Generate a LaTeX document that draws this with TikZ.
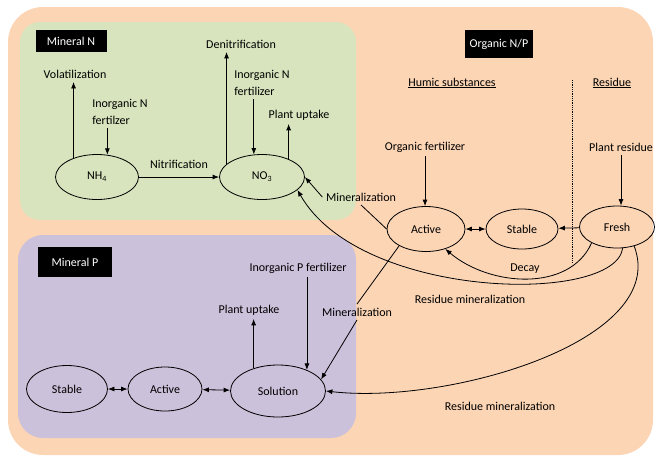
\documentclass[tikz,border=0pt]{standalone}
\usepackage{fontspec}
\setmainfont{Carlito}
\usepackage{tikz}
\usetikzlibrary{positioning,shapes.geometric,arrows.meta}
\definecolor{bgorg}{HTML}{FCD5B5}
\definecolor{bgminn}{HTML}{D7E4BD}
\definecolor{bgminp}{HTML}{CCC1DA}

\begin{document}
\begin{tikzpicture}[x=1pt,y=-1pt,font=\fontsize{12}{17}\selectfont,line width=0.8pt,
    >={Latex[length=6.5pt,width=5pt]},
    pool/.style={draw,ellipse,inner sep=0pt},
    tag/.style={fill=black,text=white,inner sep=0pt}]
    \useasboundingbox (0,0) rectangle (656,459);
    % backgrounds
    \fill[bgorg,rounded corners=35pt] (8,7) rectangle (653,455);
    \fill[bgminn,rounded corners=20pt] (20,22) rectangle (356,220);
    \fill[bgminp,rounded corners=25pt] (18,235) rectangle (356,438);
    \draw[densely dotted] (572,80) -- (572,262);

    \node[tag,minimum width=71pt,minimum height=22pt] (tagn) at (71,41) {Mineral N};
    \node[tag,minimum width=68pt,minimum height=28pt] (tago) at (499,44) {Organic N/P};
    \node[tag,minimum width=74pt,minimum height=30pt] (tagp) at (75,262) {Mineral P};

    % mineral N
    \node[pool,minimum width=83pt,minimum height=45pt] (nh4) at (97,177) {NH\textsubscript{4}};
    \node[pool,minimum width=85pt,minimum height=45pt] (no3) at (262,177) {NO\textsubscript{3}};
    \node (vol) at (75,74) {Volatilization};
    \node[align=left] (infa) at (120,112) {Inorganic N\\fertilzer};
    \node (denit) at (241,44) {Denitrification};
    \node[align=left] (infb) at (262,83) {Inorganic N\\fertilizer};
    \node (uptn) at (299,115) {Plant uptake};
    \draw[->] (nh4.141) -- (nh4.141 |- vol.south);
    \draw[->] (infa.south -| nh4.65) -- (nh4.65);
    \draw[->] (nh4) -- node[above=5pt]{Nitrification} (no3);
    \draw[->] (no3.160) -- (no3.160 |- denit.south);
    \draw[->] (infb.south -| no3.110) -- (no3.110);
    \draw[->] (no3.34) -- (no3.34 |- uptn.south);

    % organic N/P
    \node (humic) at (452,83) {\underline{Humic substances}};
    \node (resid) at (612,83) {\underline{Residue}};
    \node (ofert) at (425,147) {Organic fertilizer};
    \node (pres) at (621,147) {Plant residue};
    \node[pool,minimum width=78pt,minimum height=45pt] (active) at (426,229) {Active};
    \node[pool,minimum width=72pt,minimum height=40pt] (stable) at (522,229) {Stable};
    \node[pool,minimum width=75pt,minimum height=42pt] (fresh) at (617,227) {Fresh};
    \draw[->] (ofert.south) -- (ofert.south |- active.north);
    \draw[->] (pres.south) -- (pres.south |- fresh.north);
    \draw[<->] (active) -- (stable);
    \draw[->] (fresh) -- (stable);
    \node (minn) at (361,197) {Mineralization};
    \draw (active.west) -- (minn.south);
    \draw[->] (minn.west) -- (no3.east);
    \draw[->] (fresh.212) .. controls (570,292) and (490,287) .. (active.-46);
    \node (decay) at (525,269) {Decay};
    \draw[->] (fresh.285) .. controls (615,305) and (360,300) .. (no3.-20);
    \node (resmn) at (470,299) {Residue mineralization};

    % mineral P
    \node[pool,minimum width=81pt,minimum height=47pt] (stabp) at (67,389) {Stable};
    \node[pool,minimum width=74pt,minimum height=44pt] (actp) at (165,389) {Active};
    \node[pool,minimum width=95pt,minimum height=52pt] (sol) at (278,391) {Solution};
    \draw[<->] (stabp) -- (actp);
    \draw[<->] (actp) -- (sol);
    \node (uptp) at (249,310) {Plant uptake};
    \node (infp) at (298,268) {Inorganic P fertilizer};
    \node (minp) at (357,312) {Mineralization};
    \draw[->] (sol.137) -- (sol.137 |- uptp.south);
    \draw[->] (infp.south -| sol.36) -- (sol.36);
    \draw (active.212) -- (minp.north);
    \draw[->] (minp.south) -- (sol.15);
    \draw[->] (fresh.312) .. controls (670,340) and (450,405) .. (sol.east);
    \node (resmp) at (500,406) {Residue mineralization};
\end{tikzpicture}
\end{document}
